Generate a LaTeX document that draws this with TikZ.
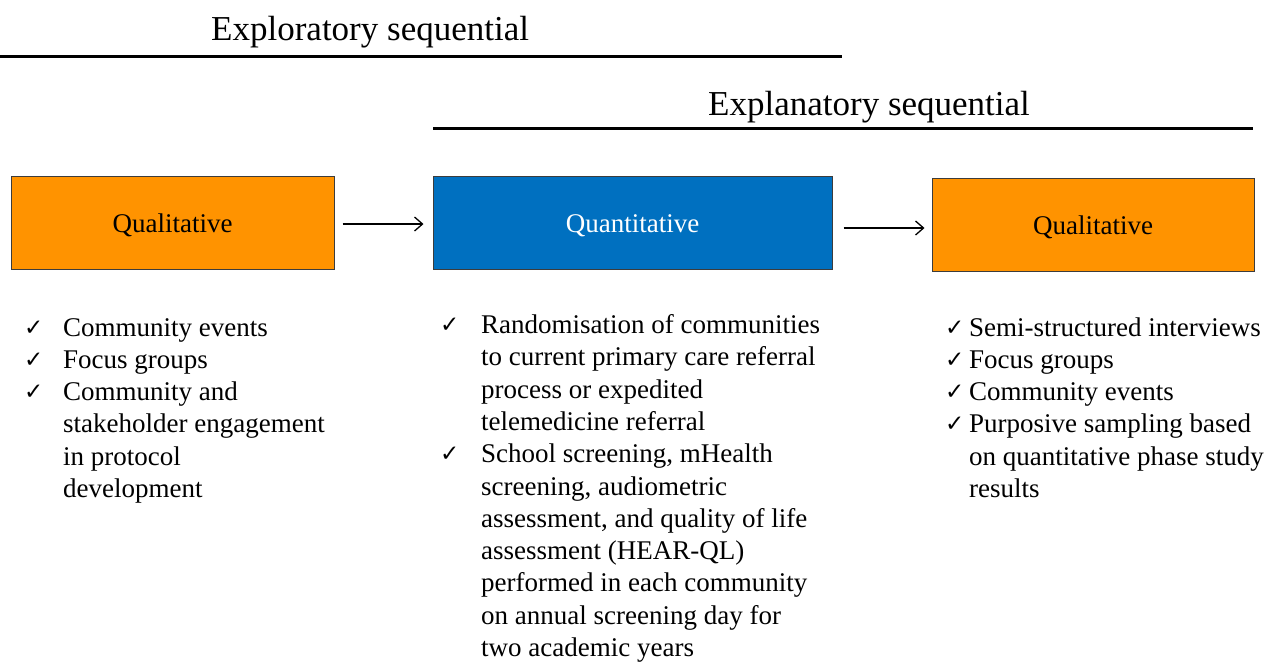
\documentclass[tikz,border=0pt]{standalone}
\usepackage{fontspec}
\setmainfont{Liberation Serif}
\newfontfamily\checkfont{DejaVu Sans}
\usetikzlibrary{arrows.meta}
\definecolor{qualorange}{RGB}{255,147,0}
\definecolor{quantblue}{RGB}{0,112,192}
\definecolor{boxedge}{RGB}{60,60,60}
\tikzset{
  phasebox/.style={draw=boxedge, line width=1pt, inner sep=0pt,
    minimum height=93pt, font=\fontsize{27}{32}\selectfont,
    text height=19pt, text depth=0pt},
  qualbox/.style={phasebox, fill=qualorange, text=black},
  quantbox/.style={phasebox, fill=quantblue, text=white},
  flow/.style={-{Straight Barb[length=8pt,width=14pt,line width=1.3pt]}, line width=1.3pt},
  header/.style={anchor=base west, inner sep=0pt, font=\fontsize{35}{40}\selectfont},
  rule/.style={line width=3pt},
  tick/.style={anchor=base west, inner sep=0pt, font=\checkfont\fontsize{23}{26}\selectfont},
  item/.style={anchor=base west, inner sep=0pt},
}
\newcommand{\itemtext}[2]{\parbox[t]{#1}{\fontsize{27}{32.3}\selectfont\raggedright #2}}
\begin{document}
\begin{tikzpicture}[x=1pt,y=-1pt]
\useasboundingbox (0,0) rectangle (1267,662);
% headers
\node[header] (hexplor) at (211,40) {Exploratory sequential};
\coordinate (r1a) at (0,56);
\coordinate (r1b) at (842,56);
\draw[rule] (r1a) -- (r1b);
\node[header] (hexplan) at (708,115) {Explanatory sequential};
\coordinate (r2a) at (433,128);
\coordinate (r2b) at (1253,128);
\draw[rule] (r2a) -- (r2b);
% boxes
\node[qualbox, minimum width=323pt] (b1) at (172.5,222.5) {Qualitative};
\node[quantbox, minimum width=399pt] (b2) at (632.5,222.5) {Quantitative};
\node[qualbox, minimum width=322pt] (b3) at (1093,224.5) {Qualitative};
\draw[flow, shorten <=8pt, shorten >=9pt] ([yshift=-1.5pt]b1.east) -- ([yshift=-1.5pt]b2.west);
\draw[flow, shorten <=11pt, shorten >=7pt] ([yshift=-5.5pt]b2.east) -- ([yshift=-3.5pt]b3.west);
% left list
\node[tick] (c11) at (24,335) {✓};
\node[item] (t11) at (63,336) {\itemtext{280pt}{Community events}};
\node[tick] (c12) at (24,367.3) {✓};
\node[item] (t12) at (63,368.3) {\itemtext{280pt}{Focus groups}};
\node[tick] (c13) at (24,399.6) {✓};
\node[item] (t13) at (63,400.6) {\itemtext{280pt}{Community and\\ stakeholder engagement\\ in protocol\\ development}};
% middle list
\node[tick] (c21) at (440,332.5) {✓};
\node[item] (t21) at (481,333.5) {\itemtext{360pt}{Randomisation of communities\\ to current primary care referral\\ process or expedited\\ telemedicine referral}};
\node[tick] (c22) at (440,461.7) {✓};
\node[item] (t22) at (481,462.7) {\itemtext{360pt}{School screening, mHealth\\ screening, audiometric\\ assessment, and quality of life\\ assessment (HEAR-QL)\\ performed in each community\\ on annual screening day for\\ two academic years}};
% right list
\node[tick] (c31) at (945,335) {✓};
\node[item] (t31) at (969,336) {\itemtext{300pt}{Semi-structured interviews}};
\node[tick] (c32) at (945,367.3) {✓};
\node[item] (t32) at (969,368.3) {\itemtext{300pt}{Focus groups}};
\node[tick] (c33) at (945,399.6) {✓};
\node[item] (t33) at (969,400.6) {\itemtext{300pt}{Community events}};
\node[tick] (c34) at (945,431.9) {✓};
\node[item] (t34) at (969,432.9) {\itemtext{300pt}{Purposive sampling based\\ on quantitative phase study\\ results}};
\end{tikzpicture}
\end{document}
